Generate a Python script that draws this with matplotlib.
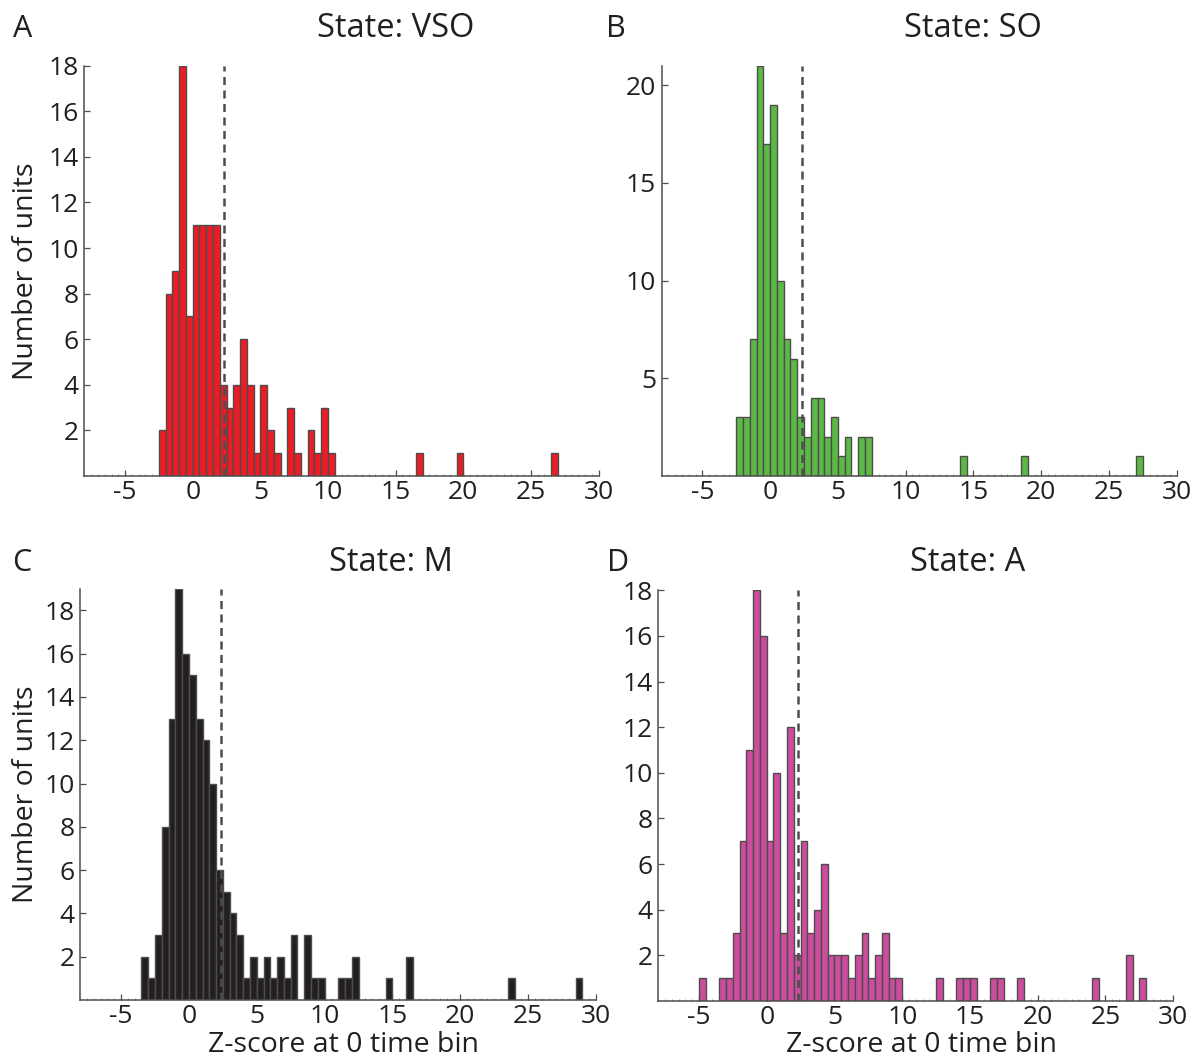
import numpy as np
import matplotlib
matplotlib.use('Agg')
import matplotlib.pyplot as plt

plt.rcParams['font.family'] = ['Open Sans', 'DejaVu Sans']
plt.rcParams['axes.unicode_minus'] = False

# 数据：每个柱的左边界（bin 宽 0.5）与计数
bin_width = 0.5

vso_left = [-2.5, -2, -1.5, -1, -0.5, 0, 0.5, 1, 1.5, 2, 2.5, 3, 3.5, 4, 4.5, 5, 5.5, 6,
            7, 7.5, 8.5, 9, 9.5, 10, 16.5, 19.5, 26.5]
vso_counts = [2, 8, 9, 18, 7, 11, 11, 11, 11, 4, 3, 4, 6, 4, 1, 4, 2, 1,
              3, 1, 2, 1, 3, 1, 1, 1, 1]

so_left = [-2.5, -2, -1.5, -1, -0.5, 0, 0.5, 1, 1.5, 2, 2.5, 3, 3.5, 4, 4.5, 5, 5.5,
           6.5, 7, 14, 18.5, 27]
so_counts = [3, 3, 7, 21, 17, 19, 10, 7, 6, 3, 2, 4, 4, 2, 3, 1, 2,
             2, 2, 1, 1, 1]

m_left = [-3.5, -3, -2.5, -2, -1.5, -1, -0.5, 0, 0.5, 1, 1.5, 2, 2.5, 3, 3.5, 4, 4.5,
          5, 5.5, 6, 6.5, 7, 7.5, 8.5, 9, 9.5, 11, 11.5, 12, 14.5, 16, 23.5, 28.5]
m_counts = [2, 1, 3, 8, 13, 19, 16, 15, 13, 12, 10, 6, 5, 4, 3, 1, 2,
            1, 2, 1, 2, 1, 3, 3, 1, 1, 1, 1, 2, 1, 2, 1, 1]

a_left = [-5, -3.5, -3, -2.5, -2, -1.5, -1, -0.5, 0, 0.5, 1, 1.5, 2, 2.5, 3, 3.5, 4,
          4.5, 5, 5.5, 6, 6.5, 7, 7.5, 8, 8.5, 9, 9.5, 12.5, 14, 14.5, 15, 16.5, 17,
          18.5, 24, 26.5, 27.5]
a_counts = [1, 1, 1, 3, 7, 11, 18, 16, 7, 10, 3, 12, 2, 7, 3, 4, 6,
            2, 2, 2, 1, 2, 3, 1, 2, 3, 1, 1, 1, 1, 1, 1, 1, 1,
            1, 1, 2, 1]

threshold = 2.33
x_ticks = [-5, 0, 5, 10, 15, 20, 25, 30]

panels = [
    # 字母, 标题, 左边界, 计数, 颜色, y上限, y刻度
    ('A', 'State: VSO', vso_left, vso_counts, '#ED1C24', 18, list(range(2, 19, 2))),
    ('B', 'State: SO', so_left, so_counts, '#5DB946', 21, [5, 10, 15, 20]),
    ('C', 'State: M', m_left, m_counts, '#231F20', 19, list(range(2, 19, 2))),
    ('D', 'State: A', a_left, a_counts, '#CC4C9D', 18, list(range(2, 19, 2))),
]

W, H = 1202, 1061
fig = plt.figure(figsize=(W / 100, H / 100), dpi=100)

# 轴区域（像素：左、右、下、上）
boxes = [(84.5, 598.6, 476, 65.7), (661.6, 1176.9, 476, 65.8),
         (80.4, 596.0, 1000, 588.7), (658.3, 1173.2, 1001, 590.3)]
letter_pos = [(13, 36.7), (606, 36.7), (12, 571), (607, 571)]
title_pos = [(396, 36.7), (973, 36.7), (391, 571), (968, 571)]

text_color = '#231F20'
axis_color = '#4D4D4D'

for i, (letter, title, left, counts, color, ytop, yticks) in enumerate(panels):
    l, r, b, t = boxes[i]
    ax = fig.add_axes([l / W, (H - b) / H, (r - l) / W, (b - t) / H])
    ax.bar(left, counts, width=bin_width, align='edge', color=color,
           edgecolor='#4D4D4D', linewidth=1.0, zorder=2)
    ax.plot([threshold, threshold], [0, ytop], linestyle=(0, (3.2, 2.2)),
            color='#4D4D4D', linewidth=1.8, zorder=3)
    ax.set_xlim(-8, 30)
    ax.set_ylim(0, ytop)
    ax.set_xticks(x_ticks)
    ax.set_xticklabels([str(v) for v in x_ticks])
    ax.set_xticks(np.arange(-8, 30.01, 0.5), minor=True)
    ax.set_yticks(yticks)
    ax.set_yticklabels([str(v) for v in yticks])
    for side in ['top', 'right']:
        ax.spines[side].set_visible(False)
    for side in ['left', 'bottom']:
        ax.spines[side].set_color(axis_color)
        ax.spines[side].set_linewidth(1.1)
    ax.tick_params(which='major', direction='in', length=4.3, width=0.9,
                   color=axis_color, labelsize=19, labelcolor=text_color, pad=4)
    ax.tick_params(axis='x', which='major', pad=3)
    ax.tick_params(axis='x', which='minor', direction='in', length=1.5, width=0.6,
                   color='#888888')
    ax.tick_params(axis='y', which='minor', left=False)

    fig.text(letter_pos[i][0] / W, 1 - letter_pos[i][1] / H, letter, fontsize=22,
             color=text_color, ha='left', va='baseline')
    fig.text(title_pos[i][0] / W, 1 - title_pos[i][1] / H, title, fontsize=23.5,
             color=text_color, ha='center', va='baseline')

# 坐标轴标题
for yc in [271.5, 794]:
    fig.text(26 / W, 1 - yc / H, 'Number of units', rotation=90, fontsize=20.5,
             color=text_color, ha='center', va='center')
for xc in [344, 921]:
    fig.text(xc / W, 1 - 1052 / H, 'Z-score at 0 time bin', fontsize=20.5,
             color=text_color, ha='center', va='baseline')

fig.savefig('out.png', dpi=100, facecolor='white')
